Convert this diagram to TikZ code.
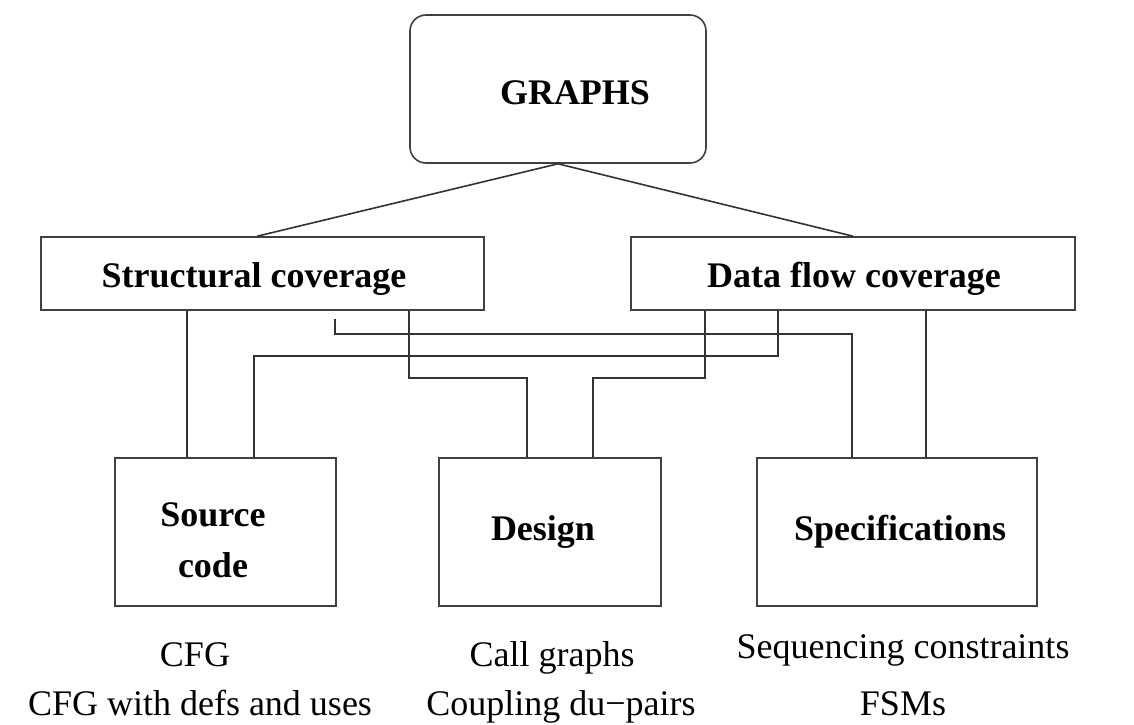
\documentclass[tikz,border=0pt]{standalone}
\usepackage{fontspec}
\setmainfont{Liberation Serif}
\usetikzlibrary{calc}
\begin{document}
\begin{tikzpicture}[x=1pt,y=-1pt,
  boxnode/.style={draw=black!75,line width=1.6pt,inner sep=0pt},
  conn/.style={draw=black!80,line width=1.6pt},
  bold/.style={font=\fontsize{36}{52}\selectfont\bfseries,inner sep=0pt,anchor=base,align=center},
  plain/.style={font=\fontsize{36}{52}\selectfont,inner sep=0pt,anchor=base}]
\useasboundingbox[fill=white] (0,0) rectangle (1134,724);
% boxes
\node[boxnode,rounded corners=16pt,minimum width=296pt,minimum height=148pt] (graphs) at (558,89) {};
\node[boxnode,minimum width=443pt,minimum height=73pt] (struct) at (262.5,273.5) {};
\node[boxnode,minimum width=444pt,minimum height=73pt] (dflow) at (853,273.5) {};
\node[boxnode,minimum width=221pt,minimum height=148pt] (src) at (225.5,532) {};
\node[boxnode,minimum width=222pt,minimum height=148pt] (design) at (550,532) {};
\node[boxnode,minimum width=280pt,minimum height=148pt] (spec) at (897,532) {};
% box texts
\node[bold] (tgraphs) at (575,104) {GRAPHS};
\node[bold] (tstruct) at (254,287) {Structural coverage};
\node[bold] (tdflow) at (854,287) {Data flow coverage};
\node[bold] (tsrc1) at (213,526) {Source};
\node[bold] (tsrc2) at (213,577) {code};
\node[bold] (tdesign) at (543,540) {Design};
\node[bold] (tspec) at (900,540) {Specifications};
% bottom texts
\node[plain] (cfg) at (195,666) {CFG};
\node[plain] (cfgdu) at (200,715) {CFG with defs and uses};
\node[plain] (call) at (552,666) {Call graphs};
\node[plain] (coup) at (561,715) {Coupling du\textminus pairs};
\node[plain] (seq) at (903,658) {Sequencing constraints};
\node[plain] (fsm) at (903,715) {FSMs};
% connectors
\draw[conn] ([xshift=217pt]struct.north west) -- (graphs.south) -- (dflow.north);
\draw[conn] ([xshift=147pt]struct.south west) -- ([xshift=73pt]src.north west);
\draw[conn] ([shift={(295pt,-8pt)}]struct.south west) -- ++(0pt,-15pt) -| ([xshift=96pt]spec.north west);
\draw[conn] ([xshift=148pt]dflow.south west) -- ++(0pt,-45pt) -| ([xshift=140pt]src.north west);
\draw[conn] ([xshift=369pt]struct.south west) -- ++(0pt,-67pt) -| ([xshift=89pt]design.north west);
\draw[conn] ([xshift=75pt]dflow.south west) -- ++(0pt,-67pt) -| ([xshift=155pt]design.north west);
\draw[conn] ([xshift=296pt]dflow.south west) -- ([xshift=170pt]spec.north west);
\end{tikzpicture}
\end{document}
